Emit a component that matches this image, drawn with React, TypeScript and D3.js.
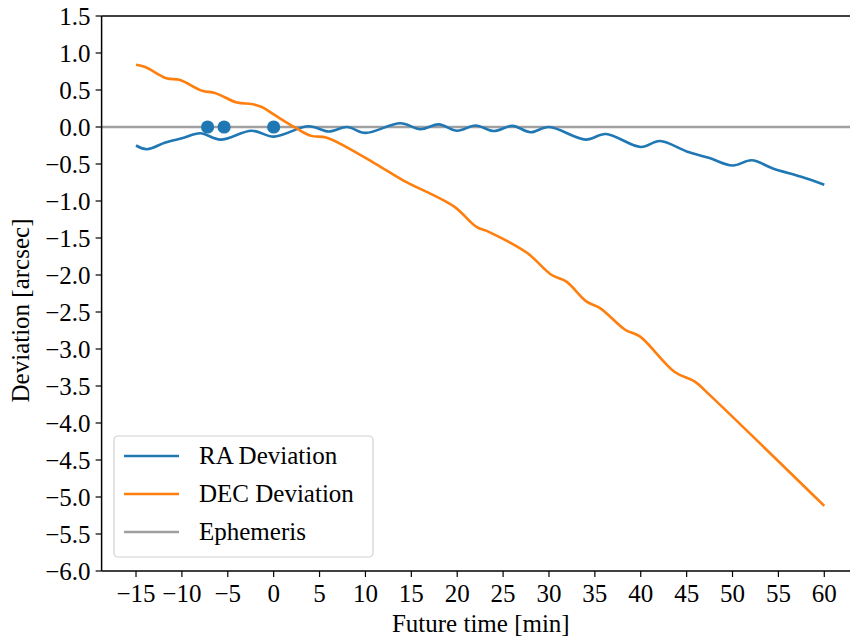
import { useMemo } from "react";
import { scaleLinear, line, curveCatmullRom, range } from "d3";

const width = 850;
const height = 638;

// axes box in pixels (the right edge is cut off by the figure)
const plotLeft = 101.6;
const plotRight = 858.7;
const plotTop = 16;
const plotBottom = 571;

const fontFamily = "'Liberation Serif', 'Times New Roman', serif";
const fontSize = 25;

const blue = "#1f77b4";
const orange = "#ff7f0e";
const gray = "#a0a0a0";

// RA deviation [arcsec] vs future time [min]
const raTime = [
  -15, -13.8, -11.8, -9.9, -8.0, -5.8, -2.4, 0, 3.8, 6.0, 8.0, 10.0, 13.8, 16.0,
  18.0, 20.0, 22.0, 24.0, 26.0, 28.0, 30.0, 34.0, 36.2, 40.0, 42.1, 45.0, 47.5,
  50.0, 52.1, 54.4, 57.4, 60,
];
const raValues = [
  -0.25, -0.3, -0.21, -0.15, -0.085, -0.17, -0.05, -0.13, 0.01, -0.06, 0.0,
  -0.08, 0.05, -0.03, 0.035, -0.05, 0.02, -0.055, 0.015, -0.07, 0.0, -0.17,
  -0.095, -0.27, -0.19, -0.33, -0.42, -0.52, -0.45, -0.56, -0.67, -0.78,
];

// DEC deviation [arcsec]
const decTime = [
  -15, -14, -11.7, -10.2, -7.8, -6.4, -4.0, -2.4, -1.3, 0, 2.5, 4.1, 5.8, 11,
  14.1, 19.6, 22.1, 23.5, 27.6, 30.3, 31.9, 34.1, 35.6, 38.3, 39.9, 43.7, 45.9,
  47.5, 60,
];
const decValues = [
  0.84, 0.81, 0.66, 0.635, 0.49, 0.46, 0.33, 0.31, 0.27, 0.17, -0.02, -0.12,
  -0.145, -0.49, -0.72, -1.07, -1.35, -1.42, -1.7, -2.0, -2.09, -2.36, -2.45,
  -2.74, -2.83, -3.31, -3.44, -3.62, -5.12,
];

// observed points sitting on the ephemeris line
const obsTime = [-7.2, -5.4, 0];
const obsValues = [0, 0, 0];

const xTicks = range(-15, 61, 5);
const yTicks = range(-6, 1.51, 0.5);

const legendItems = [
  { label: "RA Deviation", color: blue },
  { label: "DEC Deviation", color: orange },
  { label: "Ephemeris", color: gray },
];

const fmtY = (v: number) => {
  const s = Math.abs(v).toFixed(1);
  return v < -1e-9 ? "\u2212" + s : s;
};
const fmtX = (v: number) => (v < 0 ? "\u2212" + Math.abs(v) : String(v));

export default function App() {
  const x = useMemo(
    () => scaleLinear().domain([-18.75, 63.75]).range([plotLeft, plotRight]),
    []
  );
  const y = useMemo(
    () => scaleLinear().domain([-6, 1.5]).range([plotBottom, plotTop]),
    []
  );

  const path = line<[number, number]>()
    .x((d) => x(d[0]))
    .y((d) => y(d[1]))
    .curve(curveCatmullRom.alpha(0.5));

  const raPath = path(raTime.map((t, i) => [t, raValues[i]]));
  const decPath = path(decTime.map((t, i) => [t, decValues[i]]));

  return (
    <>
      <style>{`body{margin:0}`}</style>
      <svg width={width} height={height} style={{ display: "block" }}>
        <rect width={width} height={height} fill="white" />

        {/* ephemeris reference */}
        <line
          x1={plotLeft}
          x2={plotRight}
          y1={y(0)}
          y2={y(0)}
          stroke={gray}
          strokeWidth={2.6}
        />
        <path d={raPath ?? ""} fill="none" stroke={blue} strokeWidth={2.6} />
        <path d={decPath ?? ""} fill="none" stroke={orange} strokeWidth={2.6} />
        {obsTime.map((t, i) => (
          <circle key={i} cx={x(t)} cy={y(obsValues[i])} r={6.6} fill={blue} />
        ))}

        {/* spines */}
        <g stroke="black" strokeWidth={1.5} fill="none">
          <line x1={plotLeft} x2={plotLeft} y1={plotTop} y2={plotBottom} />
          <line x1={plotLeft} x2={plotRight} y1={plotBottom} y2={plotBottom} />
          <line x1={plotLeft} x2={plotRight} y1={plotTop} y2={plotTop} />
        </g>

        {/* axes ticks and labels */}
        <g fontFamily={fontFamily} fontSize={fontSize}>
          {yTicks.map((v) => (
            <g key={v} transform={`translate(${plotLeft},${y(v)})`}>
              <line x1={-6} x2={0} stroke="black" strokeWidth={1.2} />
              <text x={-11} dy="0.35em" textAnchor="end">
                {fmtY(v)}
              </text>
            </g>
          ))}
          {xTicks.map((v) => (
            <g key={v} transform={`translate(${x(v)},${plotBottom})`}>
              <line y1={0} y2={6} stroke="black" strokeWidth={1.2} />
              <text y={31} textAnchor="middle">
                {fmtX(v)}
              </text>
            </g>
          ))}
          <text x={(plotLeft + 850) / 2 + 5} y={632} textAnchor="middle">
            Future time [min]
          </text>
          <text
            transform={`translate(29,${(plotTop + plotBottom) / 2 + 17}) rotate(-90)`}
            textAnchor="middle"
          >
            Deviation [arcsec]
          </text>
        </g>

        {/* legend */}
        <g fontFamily={fontFamily} fontSize={fontSize}>
          <rect
            x={114}
            y={436}
            width={259}
            height={121}
            rx={4}
            fill="white"
            fillOpacity={0.8}
            stroke="#d0d0d0"
            strokeWidth={1.2}
          />
          {legendItems.map((d, i) => (
            <g key={d.label} transform={`translate(0,${456 + i * 38})`}>
              <line x1={124} x2={179} stroke={d.color} strokeWidth={2.6} />
              <text x={199} dy="0.33em">
                {d.label}
              </text>
            </g>
          ))}
        </g>
      </svg>
    </>
  );
}
